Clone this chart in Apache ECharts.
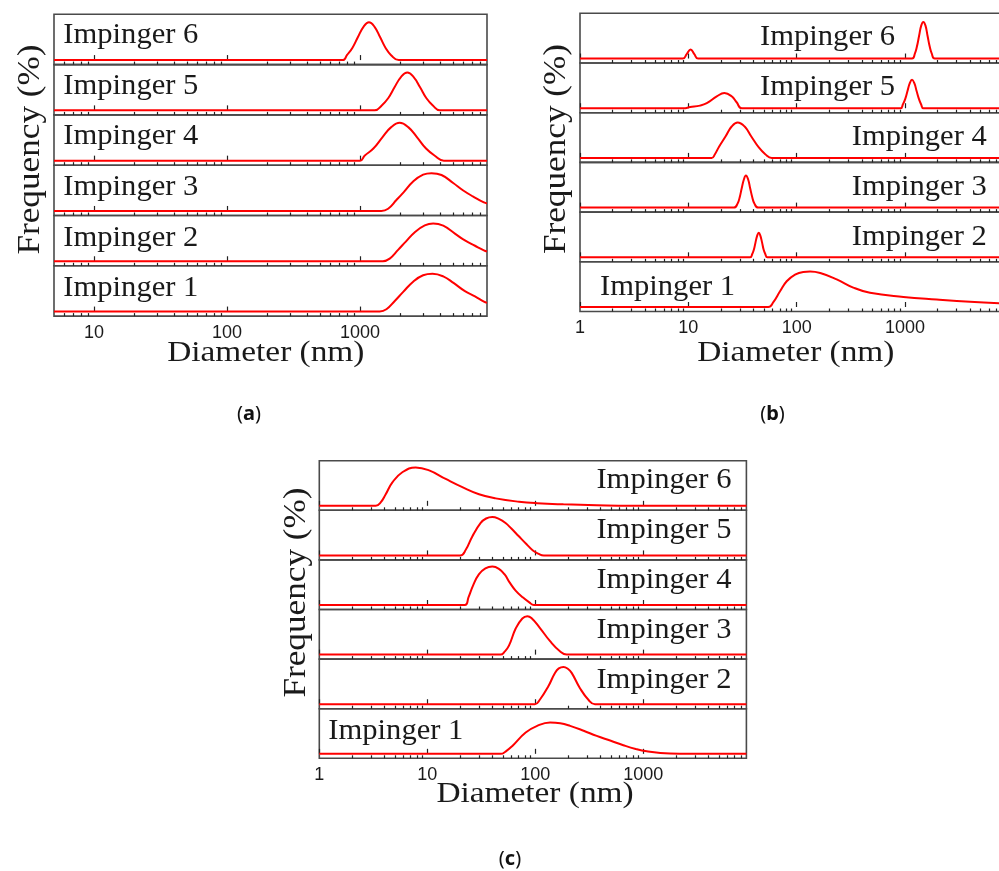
<!DOCTYPE html>
<html><head><meta charset="utf-8">
<script src="https://cdn.jsdelivr.net/npm/echarts@6.0.0/dist/echarts.min.js"></script>
<style>html,body{margin:0;padding:0;background:#fff}#c{width:999px;height:871px}</style>
</head><body><div id="c"></div>
<script>
// ---------- data ----------
const impingers = ['Impinger 6','Impinger 5','Impinger 4','Impinger 3','Impinger 2','Impinger 1'];
const panelTags = ['a','b','c'];
const xTitle = 'Diameter (nm)';
const yTitle = 'Frequency (%)';
const majorTicksA = [10, 100, 1000];
const majorTicksBC = [1, 10, 100, 1000];
const minorTicks = [2,3,4,5,6,7,8,9,20,30,40,50,60,70,80,90,200,300,400,500,600,700,800,900,2000,3000,4000,5000,6000,7000,8000];

// panel (a): [diameter nm, frequency]
const a6 = [[5,0],[743,0],[796,13],[875,32],[964,61],[1061,88],[1167,100],[1285,88],[1413,61],[1556,32],[1711,13],[1950,0],[9000,0]];
const a5 = [[5,0],[1288,0],[1455,13],[1626,32],[1816,61],[2028,88],[2265,100],[2529,88],[2825,61],[3155,32],[3524,13],[3981,0],[9000,0]];
const a4 = [[5,0],[1000,0],[1081,13],[1259,32],[1466,61],[1706,88],[1986,100],[2312,88],[2692,61],[3133,32],[3648,13],[4266,0],[9000,0]];
const a3 = [[5,0],[1445,0],[1625,6],[1876,29],[2131,50],[2506,78],[2979,96],[3443,100],[4095,95],[5012,74],[5966,54],[7096,38],[8531,22.5],[9000,20]];
const a2 = [[5,0],[1486,0],[1671,7],[1931,30],[2208,52],[2579,77],[3066,95],[3545,100],[4220,94],[5164,73],[6142,55],[7311,41],[8531,29],[9000,26]];
const a1 = [[5,0],[1406,0],[1578,6],[1823,28],[2110,52],[2506,79],[2979,96],[3505,100],[4220,93],[5072,75],[6142,54],[7311,40],[8531,26],[9000,23]];

// panel (b)
const b6 = [[1,0],[8.9,0],[9.66,12],[10.5,24],[11.35,12],[12.3,0],[1160,0],[1233,13],[1288,32],[1349,61],[1411,88],[1476,98],[1545,88],[1614,61],[1690,32],[1766,13],[1880,0],[9000,0]];
const b5 = [[1,0],[9,0],[10.4,3],[12.8,7],[14.8,13.5],[18.3,31.5],[21.5,40.5],[25.1,32],[27.9,16],[31.1,0],[912,0],[955,10],[1005,25],[1054,46],[1107,67],[1161,76],[1219,67],[1279,46],[1343,25],[1409,10],[1479,0],[9000,0]];
const b4 = [[1,0],[16.4,0],[17.6,10],[19.2,30],[22.1,58],[25.1,84],[28.5,95],[33.1,84],[38,58],[44.7,28],[51.3,10],[58.9,0],[9000,0]];
const b3 = [[1,0],[26.3,0],[28.5,11],[29.8,28],[31.1,52],[32.6,76],[34,86],[35.6,76],[37.2,52],[38.9,28],[40.7,11],[44.2,0],[9000,0]];
const b2 = [[1,0],[37.2,0],[38.9,9],[40.3,21],[41.7,40],[43.2,58],[44.7,66],[46.2,58],[47.9,40],[49.5,21],[51.3,9],[53.7,0],[9000,0]];
const b1 = [[1,0],[54.7,0],[60.9,13],[70.2,42],[80.9,69],[96.6,87],[115,94],[133,95],[165,91],[234,74],[333,52],[475,38],[966,27],[1960,20],[3981,14],[9000,9]];

// panel (c)
const c6 = [[1,0],[3.33,0],[3.7,9],[4.12,31],[4.75,63],[5.87,90],[7.8,103],[10.4,95],[14.8,72],[21.1,50],[30.1,31],[43,20],[70.6,11],[104,7],[182,4],[370,1.5],[750,0],[9000,0]];
const c5 = [[1,0],[20.2,0],[22.7,15],[26.1,51],[31.2,87],[35,99],[40,103],[46,98],[53,87],[60,72],[70,52],[83,30],[95,13],[106,5],[120,0],[9000,0]];
const c4 = [[1,0],[22.3,0],[24,20],[26.5,52],[30,82],[34.5,98],[40,103],[46,97],[52,82],[58,60],[66,38],[77,20],[88,7],[97,0],[9000,0]];
const c3 = [[1,0],[47.8,0],[52,8],[57,24],[65.8,70],[75.8,97],[84.4,103],[92,98],[110,72],[137,36],[169,9],[195,0],[9000,0]];
const c2 = [[1,0],[99,0],[110,12],[132,48],[152,84],[165,96],[182,100],[200,95],[217,84],[259,43],[310,12],[357,0],[9000,0]];
const c1 = [[1,0],[47.8,0],[53,6],[61.3,21],[81.4,57],[104,75],[137,84],[170,82],[210,75],[280,62],[370,48],[500,35],[653,23],[850,13],[1074,7],[1766,1],[2700,0],[9000,0]];

// ---------- layout ----------
const panels = [
  {tag:'a', data:[a6,a5,a4,a3,a2,a1], left:54, top:14.3, width:433, h:50.3, min:5, max:9000, majors:majorTicksA,
   labels:[[63.3,45,'left'],[63.3,95.7,'left'],[63.3,146.5,'left'],[63.3,197,'left'],[63.3,247.7,'left'],[63.3,298]],
   xt:[265.8,353], yt:[31,149.5], tagPos:[249,414]},
  {tag:'b', data:[b6,b5,b4,b3,b2,b1], left:580, top:13.3, width:428.4, h:49.7, min:1, max:9000, majors:majorTicksBC,
   labels:[[760,46.7,'left'],[760,96.7,'left'],[851.7,146.7,'left'],[851.7,196.7,'left'],[851.7,247.3,'left'],[600,296.7,'left']],
   xt:[795.8,353], yt:[556.7,149], tagPos:[772.5,414]},
  {tag:'c', data:[c6,c5,c4,c3,c2,c1], left:319.3, top:460.7, width:427.1, h:49.6, min:1, max:9000, majors:majorTicksBC,
   labels:[[731.5,490,'right'],[731.5,540,'right'],[731.5,590,'right'],[731.5,640,'right'],[731.5,690,'right'],[328.3,741,'left']],
   xt:[535,794], yt:[296.7,592.5], tagPos:[510,859]}
];

const grids=[], xAxes=[], yAxes=[], series=[], graphics=[];
const serif = 'Liberation Serif';
panels.forEach((p, pi) => {
  p.data.forEach((d, i) => {
    const g = grids.length;
    const isBottom = i === 5;
    grids.push({left:p.left, top:p.top+i*p.h, width:p.width, height:p.h, show:true,
      borderColor:'#4a4a4a', borderWidth:1.6, backgroundColor:'transparent', containLabel:false, outerBoundsMode:'none'});
    const xi = xAxes.length;
    xAxes.push({type:'log', logBase:10, gridIndex:g, min:p.min, max:p.max, position:'bottom',
      axisLine:{show:false}, splitLine:{show:false}, minorTick:{show:false},
      axisTick:{show:true, inside:true, length:5, customValues:p.majors, lineStyle:{color:'#222', width:1.2}},
      axisLabel:{show:isBottom, customValues:p.majors, margin:8, fontFamily:'Liberation Sans', fontSize:18, color:'#1a1a1a',
        formatter:(v) => String(Math.round(v))}});
    xAxes.push({type:'log', logBase:10, gridIndex:g, min:p.min, max:p.max, position:'bottom',
      axisLine:{show:false}, splitLine:{show:false}, minorTick:{show:false},
      axisTick:{show:true, inside:true, length:3, customValues:minorTicks.filter(v => v > p.min && v < p.max), lineStyle:{color:'#222', width:1.2}},
      axisLabel:{show:false}});
    yAxes.push({type:'value', gridIndex:g, min:-12, max:121, show:false});
    series.push({type:'line', name:impingers[i], xAxisIndex:xi, yAxisIndex:g, data:d, showSymbol:false, symbol:'none',
      smooth:0.45, lineStyle:{color:'#ff0000', width:2}, silent:true, z:3, clip:true});
    const L = p.labels[i];
    graphics.push({type:'text', x:L[0], y:L[1]-10, scaleX:1.02, z:10,
      style:{text:impingers[i], fontFamily:serif, fontSize:30, fill:'#1a1a1a', align:L[2]||'left', verticalAlign:'middle'}});
  });
  graphics.push({type:'text', x:p.xt[0], y:p.xt[1], scaleX:1.15, z:10,
    style:{text:xTitle, fontFamily:serif, fontSize:29, fill:'#1a1a1a', align:'center', verticalAlign:'middle'}});
  graphics.push({type:'text', x:p.yt[0], y:p.yt[1], rotation:Math.PI/2, scaleX:1.1, z:10,
    style:{text:yTitle, fontFamily:serif, fontSize:32, fill:'#1a1a1a', align:'center', verticalAlign:'middle'}});
  graphics.push({type:'text', x:p.tagPos[0], y:p.tagPos[1], z:10,
    style:{text:'({t|' + panelTags[pi] + '})', fontFamily:'Noto Sans', fontSize:20, fill:'#111', align:'center', verticalAlign:'middle',
      rich:{t:{fontFamily:'Noto Sans', fontSize:20, fontWeight:'bold', fill:'#111'}}}});
});

const chart = echarts.init(document.getElementById('c'), null, {renderer:'canvas', width:999, height:871});
chart.setOption({
  animation:false,
  backgroundColor:'#ffffff',
  grid:grids, xAxis:xAxes, yAxis:yAxes, series:series, graphic:graphics
});
</script>
</body></html>
